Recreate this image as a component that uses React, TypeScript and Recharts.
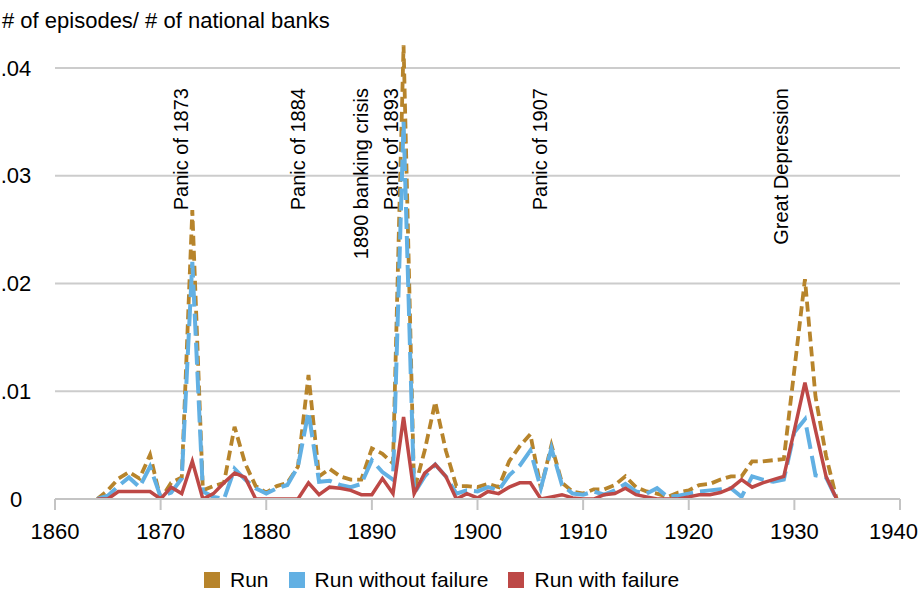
import { LineChart, Line, XAxis, YAxis, CartesianGrid, ReferenceLine, Legend } from 'recharts';

const FONT = '"Liberation Sans", Arial, Helvetica, sans-serif';

const YEARS = [
  1864, 1865, 1866, 1867, 1868, 1869, 1870, 1871, 1872, 1873, 1874, 1875, 1876, 1877, 1878, 1879,
  1880, 1881, 1882, 1883, 1884, 1885, 1886, 1887, 1888, 1889, 1890, 1891, 1892, 1893, 1894, 1895,
  1896, 1897, 1898, 1899, 1900, 1901, 1902, 1903, 1904, 1905, 1906, 1907, 1908, 1909, 1910, 1911,
  1912, 1913, 1914, 1915, 1916, 1917, 1918, 1919, 1920, 1921, 1922, 1923, 1924, 1925, 1926, 1927,
  1928, 1929, 1930, 1931, 1932, 1933, 1934,
];

// episodes per national bank, by year
const RUN = [
  0, 0.0008, 0.0019, 0.0025, 0.0019, 0.0041, 0, 0.0015, 0.002, 0.0268, 0.0008, 0.0012, 0.0015, 0.0067, 0.0033, 0.0012,
  0.0006, 0.0012, 0.0015, 0.003, 0.0115, 0.0021, 0.0028, 0.0021, 0.0018, 0.0018, 0.0047, 0.0042, 0.0033, 0.0421, 0.0008, 0.0045,
  0.009, 0.0045, 0.0012, 0.0012, 0.0011, 0.0014, 0.0011, 0.0035, 0.0049, 0.006, 0.001, 0.005, 0.0015, 0.0007, 0.0005, 0.0009,
  0.0009, 0.0013, 0.0021, 0.0011, 0.0007, 0.0005, 0.0002, 0.0006, 0.0008, 0.0013, 0.0014, 0.0018, 0.0021, 0.0021, 0.0035, 0.0035,
  0.0036, 0.0037, 0.012, 0.0204, 0.0095, 0.004, 0,
];

const RUN_WITHOUT_FAILURE = [
  0, 0.0003, 0.0012, 0.002, 0.0011, 0.003, 0.0002, 0.0006, 0.0019, 0.022, 0.0007, 0.0002, 0, 0.0028, 0.0018, 0.001,
  0.0005, 0.001, 0.0013, 0.003, 0.0081, 0.0016, 0.0017, 0.0013, 0.0011, 0.0014, 0.0036, 0.0025, 0.0018, 0.035, 0.0005, 0.0021,
  0.0032, 0.0021, 0.0005, 0.0008, 0.0007, 0.0011, 0.0008, 0.0022, 0.0031, 0.0045, 0.001, 0.0047, 0.0013, 0.0005, 0.0004, 0.0007,
  0.0004, 0.0008, 0.0014, 0.0007, 0.0005, 0.001, 0.0002, 0.0003, 0.0005, 0.0007, 0.0008, 0.0009, 0.001, 0.0002, 0.0021, 0.0018,
  0.0016, 0.0018, 0.0062, 0.0074, 0.0022, 0.002, 0,
];

const RUN_WITH_FAILURE = [
  0, 0, 0.0007, 0.0007, 0.0007, 0.0007, 0, 0.0011, 0.0005, 0.0035, 0, 0.0005, 0.0015, 0.0024, 0.002, 0,
  0, 0, 0, 0, 0.0015, 0.0004, 0.0011, 0.001, 0.0008, 0.0004, 0.0004, 0.0019, 0.0005, 0.0076, 0.0005, 0.0024,
  0.0032, 0.0021, 0, 0.0005, 0.0001, 0.0007, 0.0005, 0.0011, 0.0015, 0.0015, 0, 0.0002, 0.0004, 0.0001, 0, 0,
  0.0004, 0.0005, 0.001, 0.0004, 0.0002, 0, 0, 0, 0.0002, 0.0004, 0.0004, 0.0006, 0.001, 0.0018, 0.0011, 0.0015,
  0.0018, 0.0021, 0.0064, 0.0108, 0.0064, 0.0021, 0,
];

const X_TICKS = [1860, 1870, 1880, 1890, 1900, 1910, 1920, 1930, 1940];
const Y_TICKS = [0, 0.01, 0.02, 0.03, 0.04];
const Y_TICK_LABELS = ['0', '.01', '.02', '.03', '.04'];
const GRID_VALUES = [0.01, 0.02, 0.03, 0.04];

const EVENT_YEARS = [1873, 1884, 1890, 1893, 1907, 1930];
const EVENT_NAMES = ['Panic of 1873', 'Panic of 1884', '1890 banking crisis', 'Panic of 1893', 'Panic of 1907', 'Great Depression'];
const EVENT_SHIFT = [-4, -4, -4, -6, -4, -6];

const SERIES = [
  { key: 'run', name: 'Run', color: '#b7842b', dash: '10 5', width: 3.8 },
  { key: 'runNoFail', name: 'Run without failure', color: '#62b0e3', dash: '22 7', width: 4 },
  { key: 'runFail', name: 'Run with failure', color: '#bd4846', dash: undefined, width: 3.5 },
];

const data = YEARS.map((year, i) => ({
  year,
  run: RUN[i],
  runNoFail: RUN_WITHOUT_FAILURE[i],
  runFail: RUN_WITH_FAILURE[i],
}));

function XTick({ x, y, payload }: any) {
  // keep the last year label inside the canvas
  const last = payload.value === X_TICKS[X_TICKS.length - 1];
  return (
    <text
      x={last ? 918 : x}
      y={y}
      dy="0.71em"
      textAnchor={last ? 'end' : 'middle'}
      fontSize={22}
      fontFamily={FONT}
      fill="#000"
    >
      {payload.value}
    </text>
  );
}

function YTick({ y, payload }: any) {
  const idx = Y_TICKS.indexOf(payload.value);
  return (
    <text x={16} y={y} dy="0.355em" textAnchor="middle" fontSize={22} fontFamily={FONT} fill="#000">
      {Y_TICK_LABELS[idx]}
    </text>
  );
}

function Title() {
  return (
    <text x={2} y={28} fontSize={22} fontFamily={FONT} fill="#000">
      # of episodes/ # of national banks
    </text>
  );
}

function EventLabel({ viewBox, text, shift }: any) {
  if (!viewBox) return null;
  const x = viewBox.x + shift;
  return (
    <text
      transform={`translate(${x}, 88) rotate(-90)`}
      textAnchor="end"
      fontSize={20}
      fontFamily={FONT}
      fill="#000"
    >
      {text}
    </text>
  );
}

function LegendContent() {
  return (
    <div
      style={{
        display: 'flex',
        alignItems: 'center',
        paddingLeft: 204,
        paddingTop: 20,
        fontFamily: FONT,
        fontSize: 21,
        lineHeight: '24px',
        color: '#000',
      }}
    >
      {SERIES.map((s, i) => (
        <div key={s.key} style={{ display: 'flex', alignItems: 'center', marginRight: i < SERIES.length - 1 ? 20 : 0 }}>
          <span style={{ width: 16, height: 16, background: s.color, display: 'inline-block', marginRight: 10 }} />
          <span>{s.name}</span>
        </div>
      ))}
    </div>
  );
}

export default function App() {
  return (
    <div style={{ position: 'absolute', left: 0, top: 0 }}>
      <LineChart width={920} height={600} data={data} margin={{ top: 14, right: 20, bottom: 0, left: 0 }}>
        <CartesianGrid vertical={false} horizontalValues={GRID_VALUES} stroke="#cccccc" strokeWidth={2} />
        <XAxis
          dataKey="year"
          type="number"
          domain={[1860, 1940]}
          ticks={X_TICKS}
          interval={0}
          height={49}
          stroke="#c4c4c4"
          strokeWidth={2}
          tickSize={11}
          tickMargin={13}
          tick={<XTick />}
        />
        <YAxis
          type="number"
          domain={[0, 0.045]}
          allowDataOverflow
          ticks={Y_TICKS}
          width={55}
          axisLine={false}
          tickLine={false}
          tick={<YTick />}
          label={<Title />}
        />
        {EVENT_YEARS.map((yr, i) => (
          <ReferenceLine
            key={yr}
            x={yr}
            stroke="none"
            label={<EventLabel text={EVENT_NAMES[i]} shift={EVENT_SHIFT[i]} />}
          />
        ))}
        {SERIES.map((s) => (
          <Line
            key={s.key}
            type="linear"
            dataKey={s.key}
            name={s.name}
            stroke={s.color}
            strokeWidth={s.width}
            strokeDasharray={s.dash}
            dot={false}
            activeDot={false}
            isAnimationActive={false}
          />
        ))}
        <Legend verticalAlign="bottom" height={52} wrapperStyle={{ left: 0, width: 920 }} content={<LegendContent />} />
      </LineChart>
    </div>
  );
}
